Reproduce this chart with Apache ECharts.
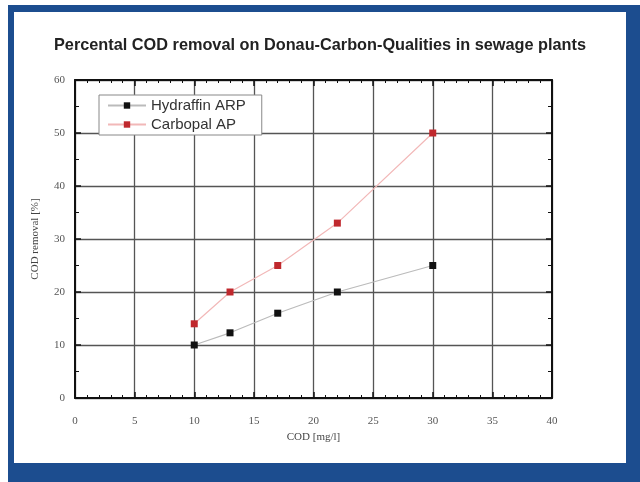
<!DOCTYPE html>
<html><head><meta charset="utf-8">
<script src="https://cdn.jsdelivr.net/npm/echarts@6/dist/echarts.min.js"></script>
<style>
html,body{margin:0;padding:0;background:#fff;}
#frame{position:absolute;left:8px;top:5px;width:632px;height:477px;background:#1c4d8f;}
#inner{position:absolute;left:14px;top:12px;width:612px;height:451px;background:#fff;}
#chart{position:absolute;left:0;top:0;width:640px;height:482px;}
</style></head>
<body>
<div id="frame"></div><div id="inner"></div>
<div id="chart"></div>
<script>
const title = 'Percental COD removal on Donau-Carbon-Qualities in sewage plants';
const seriesNames = ['Hydraffin ARP', 'Carbopal AP'];
const codX = [10, 13, 17, 22, 30];
const hydraffin = [10, 12.3, 16, 20, 25];
const carbopal = [14, 20, 25, 33, 50];
const xName = 'COD [mg/l]';
const yName = 'COD removal [%]';

const chart = echarts.init(document.getElementById('chart'), null, {renderer:'canvas'});
const serif = 'Liberation Serif';
const mk = (vals) => codX.map((x,i)=>[x, vals[i]]);
chart.setOption({
  animation:false,
  backgroundColor:'transparent',
  title:{text:title, left:'center', top:33, textStyle:{fontFamily:'Liberation Sans', fontWeight:'bold', fontSize:16.3, color:'#222'}},
  grid:{left:75, right:88, top:80, bottom:84},
  legend:{
    data:seriesNames, orient:'vertical', left:99, top:95, width:161,
    backgroundColor:'#fff', borderColor:'#888', borderWidth:1,
    padding:[3,16,3,8], itemGap:4, itemWidth:38, itemHeight:8,
    textStyle:{fontFamily:'Liberation Sans', fontSize:15, color:'#333', padding:[0,0,0,0]}
  },
  xAxis:[
    {type:'value', min:0, max:40, interval:5, position:'bottom',
      name:xName, nameLocation:'middle', nameGap:28,
      nameTextStyle:{fontFamily:serif, fontSize:11, color:'#444'},
      axisLabel:{fontFamily:serif, fontSize:11, color:'#555', margin:18},
      axisLine:{show:true, onZero:false, lineStyle:{color:'#111', width:2}},
      axisTick:{show:true, inside:true, length:6, lineStyle:{color:'#111', width:1.5}},
      minorTick:{show:true, splitNumber:5, length:3, lineStyle:{color:'#111'}},
      splitLine:{show:true, lineStyle:{color:'#555', width:1.3}}},
    {type:'value', min:0, max:40, interval:5, position:'top',
      axisLine:{show:true, onZero:false, lineStyle:{color:'#111', width:2}},
      axisTick:{show:true, inside:true, length:6, lineStyle:{color:'#111', width:1.5}},
      minorTick:{show:true, splitNumber:5, length:3, lineStyle:{color:'#111'}},
      axisLabel:{show:false}, splitLine:{show:false}}
  ],
  yAxis:[
    {type:'value', min:0, max:60, interval:10, position:'left',
      name:yName, nameLocation:'middle', nameGap:34, nameRotate:90,
      nameTextStyle:{fontFamily:serif, fontSize:11, color:'#444'},
      axisLabel:{fontFamily:serif, fontSize:11, color:'#555', margin:10},
      axisLine:{show:true, onZero:false, lineStyle:{color:'#111', width:2}},
      axisTick:{show:true, inside:true, length:6, lineStyle:{color:'#111', width:1.5}},
      minorTick:{show:true, splitNumber:2, length:4, lineStyle:{color:'#111'}},
      splitLine:{show:true, lineStyle:{color:'#555', width:1.3}}},
    {type:'value', min:0, max:60, interval:10, position:'right',
      axisLine:{show:true, onZero:false, lineStyle:{color:'#111', width:2}},
      axisTick:{show:true, inside:true, length:6, lineStyle:{color:'#111', width:1.5}},
      minorTick:{show:true, splitNumber:2, length:4, lineStyle:{color:'#111'}},
      axisLabel:{show:false}, splitLine:{show:false}}
  ],
  series:[
    {name:seriesNames[0], type:'line', data:mk(hydraffin), symbol:'rect', symbolSize:7,
      itemStyle:{color:'#111'}, lineStyle:{color:'#bbb', width:1.2}, z:5},
    {name:seriesNames[1], type:'line', data:mk(carbopal), symbol:'rect', symbolSize:7,
      itemStyle:{color:'#c0282d'}, lineStyle:{color:'#f2b8b8', width:1.2}, z:5}
  ]
});
</script>
</body></html>
